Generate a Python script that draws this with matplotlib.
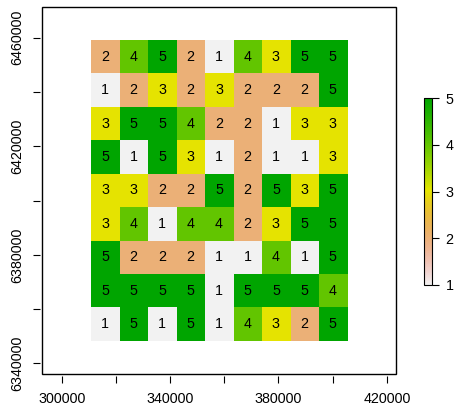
"""Raster of class values 1-5 with cell labels, R terrain-style palette."""
import colorsys

import matplotlib
matplotlib.use("Agg")
import matplotlib.pyplot as plt
import numpy as np
from matplotlib.colors import ListedColormap
from matplotlib.patches import Rectangle

plt.rcParams["font.family"] = ["Liberation Sans", "DejaVu Sans"]

# cell values, top row first
grid_values = [
    [2, 4, 5, 2, 1, 4, 3, 5, 5],
    [1, 2, 3, 2, 3, 2, 2, 2, 5],
    [3, 5, 5, 4, 2, 2, 1, 3, 3],
    [5, 1, 5, 3, 1, 2, 1, 1, 3],
    [3, 3, 2, 2, 5, 2, 5, 3, 5],
    [3, 4, 1, 4, 4, 2, 3, 5, 5],
    [5, 2, 2, 2, 1, 1, 4, 1, 5],
    [5, 5, 5, 5, 1, 5, 5, 5, 4],
    [1, 5, 1, 5, 1, 4, 3, 2, 5],
]
raster_extent = [310800, 405300, 6348300, 6459150]  # xmin, xmax, ymin, ymax
x_ticks = [300000, 320000, 340000, 360000, 380000, 400000, 420000]
x_labels = ["300000", "", "340000", "", "380000", "", "420000"]
y_ticks = [6340000, 6360000, 6380000, 6400000, 6420000, 6440000, 6460000]
y_labels = ["6340000", "", "6380000", "", "6420000", "", "6460000"]
legend_ticks = [1, 2, 3, 4, 5]

FS = 10.3


def terrain_colors(n):
    # same construction as R's terrain.colors()
    k = n // 2
    first = [colorsys.hsv_to_rgb(h, s, v) for h, s, v in zip(
        np.linspace(4 / 12, 2 / 12, k), np.linspace(1, 1, k), np.linspace(0.65, 0.9, k))]
    m = n - k + 1
    second = [colorsys.hsv_to_rgb(h, s, v) for h, s, v in zip(
        np.linspace(2 / 12, 0, m)[1:], np.linspace(1, 0, m)[1:], np.linspace(0.9, 0.95, m)[1:])]
    return first + second


cmap = ListedColormap(terrain_colors(255)[::-1])
values = np.array(grid_values)

fig = plt.figure(figsize=(4.55, 4.08), dpi=100)
ax = fig.add_axes([41.7 / 455, 34 / 408, 354.3 / 455, 367.3 / 408])
im = ax.imshow(values, cmap=cmap, vmin=1, vmax=5, extent=raster_extent,
               interpolation="nearest", aspect="auto")

xmin, xmax, ymin, ymax = raster_extent
nrow, ncol = values.shape
dx = (xmax - xmin) / ncol
dy = (ymax - ymin) / nrow
for r in range(nrow):
    for c in range(ncol):
        ax.text(xmin + (c + 0.5) * dx, ymax - (r + 0.5) * dy, str(values[r, c]),
                ha="center", va="center", fontsize=FS, color="black")

ax.set_xlim(292620, 423360)
ax.set_ylim(6336130, 6471420)

# axis lines sit a little off the box, like R's axis()
for side in ["top", "right", "bottom", "left"]:
    ax.spines[side].set_visible(False)
ax.spines["bottom"].set_position(("outward", 1.5))
ax.spines["left"].set_position(("outward", 1.5))
ax.add_patch(Rectangle((0, 0), 1, 1, transform=ax.transAxes, fill=False,
                       lw=1.0, ec="black", clip_on=False, zorder=5))

ax.set_xticks(x_ticks)
ax.set_xticklabels(x_labels)
ax.set_yticks(y_ticks)
ax.set_yticklabels(y_labels)
ax.tick_params(direction="out", length=4.7, width=0.8, labelsize=FS, pad=7)
ax.tick_params(axis="y", pad=6.5, labelrotation=90)
for lab in ax.get_yticklabels():
    lab.set_verticalalignment("center")

cax = fig.add_axes([424 / 455, (408 - 285) / 408, 8 / 455, 187 / 408])
cb = fig.colorbar(im, cax=cax, ticks=legend_ticks)
cb.outline.set_linewidth(0.8)
cax.tick_params(direction="out", length=4.7, width=0.8, labelsize=FS, pad=5)

fig.savefig("out.png", dpi=100)
plt.close(fig)
